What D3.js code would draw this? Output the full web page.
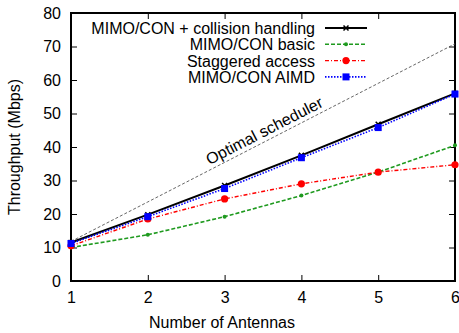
<!DOCTYPE html>
<html lang="en">
  <head>
    <meta charset="UTF-8" />
    <title>Throughput vs antennas</title>
    <script src="https://d3js.org/d3.v7.min.js"></script>
    <style>
      body { margin: 0; background: #fff; }
      svg text { font-family: "Liberation Sans", Arial, sans-serif; fill: #000; }
    </style>
  </head>
  <body>
    <div id="graph"></div>
    <script>
      // data
      const antennas = [1, 2, 3, 4, 5, 6];
      const collision = [11.5, 19.8, 28.5, 37.5, 46.8, 56.0];
      const basic = [10.0, 13.8, 19.2, 25.5, 32.5, 40.5];
      const staggered = [10.5, 18.5, 24.5, 29.0, 32.5, 34.7];
      const aimd = [11.2, 19.2, 27.6, 36.8, 45.8, 55.8];
      const optimal = [11.8, 23.6, 35.4, 47.2, 59.0, 70.8];
      const yTicks = [0, 10, 20, 30, 40, 50, 60, 70, 80];

      var margin = { top: 13, right: 4, bottom: 52, left: 71 },
        width = 459 - margin.left - margin.right,
        height = 333 - margin.top - margin.bottom;

      var svg = d3
        .select("#graph")
        .append("svg")
        .attr("width", 459)
        .attr("height", 333);

      var g = svg
        .append("g")
        .attr("transform", "translate(" + margin.left + "," + margin.top + ")");

      const x = d3.scaleLinear().domain([1, 6]).range([0, width]);
      const y = d3.scaleLinear().domain([0, 80]).range([height, 0]);

      // inward ticks on all four sides, gnuplot style
      g.append("g")
        .attr("transform", `translate(0, ${height})`)
        .call(d3.axisBottom(x).tickValues(antennas).tickSize(-6).tickPadding(11).tickFormat(d3.format("d")))
        .call((a) => a.select(".domain").remove());
      g.append("g")
        .call(d3.axisTop(x).tickValues(antennas).tickSize(-6).tickFormat(""))
        .call((a) => a.select(".domain").remove());
      g.append("g")
        .call(d3.axisLeft(y).tickValues(yTicks).tickSize(-6).tickPadding(10))
        .call((a) => a.select(".domain").remove());
      g.append("g")
        .attr("transform", `translate(${width}, 0)`)
        .call(d3.axisRight(y).tickValues(yTicks).tickSize(-6).tickFormat(""))
        .call((a) => a.select(".domain").remove());

      g.selectAll(".tick line").attr("stroke", "#000").attr("stroke-width", 1);
      g.selectAll(".tick text").style("font-size", "16px");

      g.append("rect")
        .attr("width", width)
        .attr("height", height)
        .attr("fill", "none")
        .attr("stroke", "#000")
        .attr("stroke-width", 2);

      const line = d3
        .line()
        .x((d, i) => x(antennas[i]))
        .y((d) => y(d));

      // optimal scheduler reference line
      g.append("path")
        .attr("d", line(optimal))
        .attr("fill", "none")
        .attr("stroke", "#555")
        .attr("stroke-width", 0.9)
        .attr("stroke-dasharray", "3,2");

      const ang = (Math.atan2(y(optimal[5]) - y(optimal[0]), x(6) - x(1)) * 180) / Math.PI;
      g.append("text")
        .attr("transform", `translate(${x(3.55)}, ${y(3.55 * 11.8) - 5}) rotate(${ang})`)
        .attr("text-anchor", "middle")
        .style("font-size", "16px")
        .text("Optimal scheduler");

      const series = [
        { name: "MIMO/CON + collision handling", values: collision, color: "#000", width: 2, dash: null, mark: "cross" },
        { name: "MIMO/CON basic", values: basic, color: "#1f9a1f", width: 1.6, dash: "4,2", mark: "dot" },
        { name: "Staggered access", values: staggered, color: "#ff0000", width: 1.4, dash: "4,2,1,2", mark: "circle" },
        { name: "MIMO/CON AIMD", values: aimd, color: "#0000ff", width: 1.6, dash: "1.5,1.5", mark: "square" },
      ];

      function drawMark(sel, s, cx, cy) {
        if (s.mark === "cross") {
          sel.append("path")
            .attr("d", `M${cx - 2.5},${cy - 2.5}L${cx + 2.5},${cy + 2.5}M${cx - 2.5},${cy + 2.5}L${cx + 2.5},${cy - 2.5}`)
            .attr("stroke", s.color).attr("stroke-width", 1.5);
        } else if (s.mark === "dot") {
          sel.append("circle").attr("cx", cx).attr("cy", cy).attr("r", 2).attr("fill", s.color);
        } else if (s.mark === "circle") {
          sel.append("circle").attr("cx", cx).attr("cy", cy).attr("r", 3.6).attr("fill", s.color);
        } else {
          sel.append("rect").attr("x", cx - 3.5).attr("y", cy - 3.5).attr("width", 7).attr("height", 7).attr("fill", s.color);
        }
      }

      series.forEach(function (s) {
        g.append("path")
          .attr("d", line(s.values))
          .attr("fill", "none")
          .attr("stroke", s.color)
          .attr("stroke-width", s.width)
          .attr("stroke-dasharray", s.dash);
        s.values.forEach(function (v, i) {
          drawMark(g, s, x(antennas[i]), y(v));
        });
      });

      // legend
      var legend = svg.append("g");
      series.forEach(function (s, i) {
        var ly = 28 + i * 16.3;
        legend.append("text")
          .attr("x", 315)
          .attr("y", ly + 6)
          .attr("text-anchor", "end")
          .style("font-size", "16px")
          .text(s.name);
        legend.append("line")
          .attr("x1", 325).attr("x2", 367)
          .attr("y1", ly).attr("y2", ly)
          .attr("stroke", s.color)
          .attr("stroke-width", s.width)
          .attr("stroke-dasharray", s.dash);
        drawMark(legend, s, 346, ly);
      });

      // axis titles
      svg.append("text")
        .attr("transform", "translate(20, 147) rotate(-90)")
        .attr("text-anchor", "middle")
        .style("font-size", "16px")
        .text("Throughput (Mbps)");
      svg.append("text")
        .attr("x", 222)
        .attr("y", 328)
        .attr("text-anchor", "middle")
        .style("font-size", "16px")
        .text("Number of Antennas");
    </script>
  </body>
</html>
